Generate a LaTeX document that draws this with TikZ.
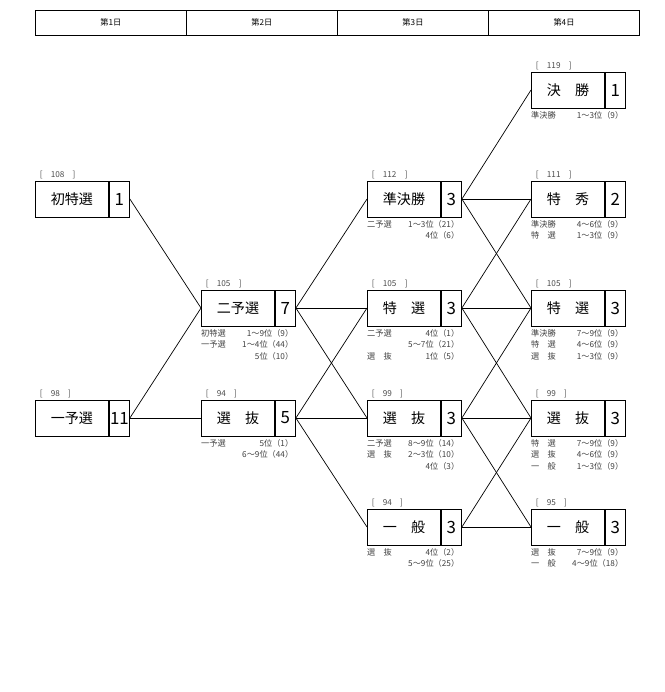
\documentclass[tikz,border=0pt]{standalone}
\usepackage{fontspec}
\setmainfont{Noto Sans CJK JP}
\usetikzlibrary{positioning}

\tikzset{
    race/.style={draw, thick, minimum width=2.19cm, minimum height=1.08cm, inner sep=0pt, anchor=west, font=\large},
    cnt/.style={draw, thick, minimum width=0.6cm, minimum height=1.08cm, inner sep=0pt, anchor=west, font=\Large},
    pts/.style={anchor=south west, inner sep=1pt, font=\scriptsize, text=black!70},
    src/.style={anchor=north west, inner sep=0pt, text width=2.76cm, align=left, font=\fontsize{7}{10}\selectfont, text=black!75},
    day/.style={draw, thick, minimum width=4.53cm, minimum height=0.75cm, anchor=west, inner sep=0pt, font=\scriptsize},
    link/.style={semithick}
}

\begin{document}
\begin{tikzpicture}[x=0.03cm, y=-0.03cm]
    \useasboundingbox (0,0) rectangle (665,692);

    % Header
    \foreach \n/\x/\d in {d1/35/1, d2/186/2, d3/337/3, d4/488/4}
        \node[day] (\n) at (\x,22.5) {第\d 日};

    % Races
    \foreach \n/\x/\y/\t/\k/\p/\s in {
        a/35/199/初特選/1/108/{},
        b/35/418/一予選/11/98/{},
        c/201/308/二予選/7/105/{初特選\hfill 1～9位（9）\\一予選\hfill 1～4位（44）\\\hfill 5位（10）},
        d/201/418/選　抜/5/94/{一予選\hfill 5位（1）\\\hfill 6～9位（44）},
        e/367/199/準決勝/3/112/{二予選\hfill 1～3位（21）\\\hfill 4位（6）},
        f/367/308/特　選/3/105/{二予選\hfill 4位（1）\\\hfill 5～7位（21）\\選　抜\hfill 1位（5）},
        g/367/418/選　抜/3/99/{二予選\hfill 8～9位（14）\\選　抜\hfill 2～3位（10）\\\hfill 4位（3）},
        h/367/527/一　般/3/94/{選　抜\hfill 4位（2）\\\hfill 5～9位（25）},
        i/531/90/決　勝/1/119/{準決勝\hfill 1～3位（9）},
        j/531/199/特　秀/2/111/{準決勝\hfill 4～6位（9）\\特　選\hfill 1～3位（9）},
        k/531/308/特　選/3/105/{準決勝\hfill 7～9位（9）\\特　選\hfill 4～6位（9）\\選　抜\hfill 1～3位（9）},
        l/531/418/選　抜/3/99/{特　選\hfill 7～9位（9）\\選　抜\hfill 4～6位（9）\\一　般\hfill 1～3位（9）},
        m/531/527/一　般/3/95/{選　抜\hfill 7～9位（9）\\一　般\hfill 4～9位（18）}}
    {
        \node[race] (\n) at (\x,\y) {\t};
        \node[cnt] (\n n) at (\n.east) {\k};
        \node[pts] at ([xshift=3pt]\n.north west) {[\quad\p\quad]};
        \node[src] at ([yshift=-2pt]\n.south west) {\s};
    }

    % Links
    \foreach \u/\v in {a/c, b/c, b/d,
                       c/e, c/f, c/g, d/f, d/g, d/h,
                       e/i, e/j, e/k, f/j, f/k, f/l, g/k, g/l, g/m, h/l, h/m}
        \draw[link] (\u n.east) -- (\v.west);

\end{tikzpicture}
\end{document}
